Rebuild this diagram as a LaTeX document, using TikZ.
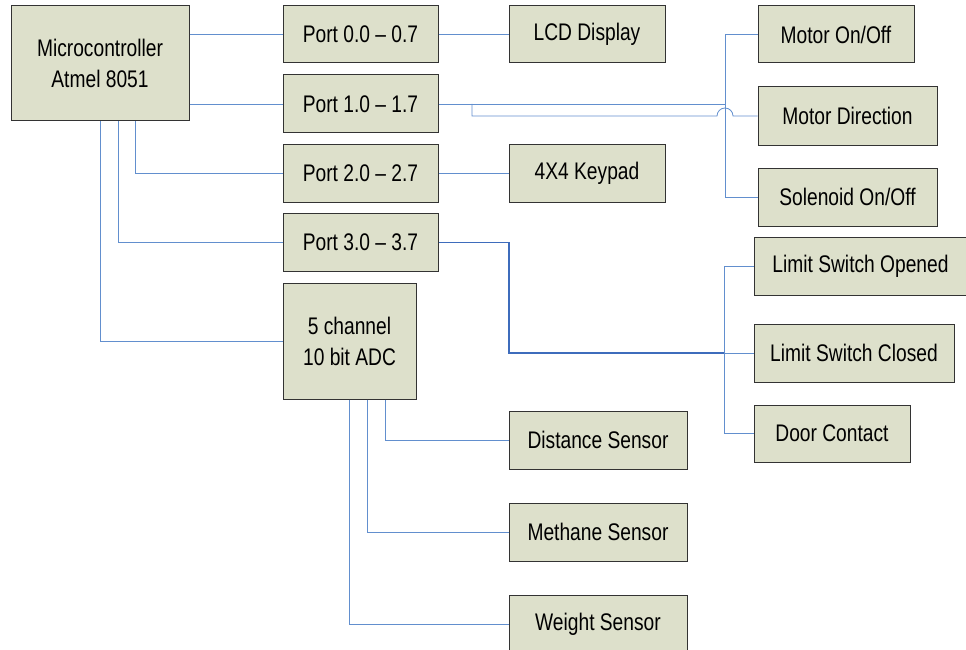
\documentclass[tikz,border=0pt]{standalone}
\usepackage{fontspec}
\setmainfont{Liberation Sans}[FakeStretch=0.8]
\usepackage{tikz}
\definecolor{boxfill}{RGB}{221,224,203}
\definecolor{wireblue}{RGB}{98,143,206}
\definecolor{busblue}{RGB}{62,108,188}

\begin{document}
\begin{tikzpicture}[x=1pt,y=-1pt]
	\tikzstyle{blk}=[draw=black!80,fill=boxfill,line width=1pt,inner sep=0pt,align=center,font=\fontsize{24}{31}\selectfont];
	\tikzstyle{wire}=[draw=wireblue,line width=0.8pt];
	\tikzstyle{bus}=[draw=busblue,line width=1.4pt];
	\useasboundingbox (0,0) rectangle (966,650);
	%% controller and ports
	\node[blk,minimum width=178pt,minimum height=115pt] (mcu) at (100,63.5) {Microcontroller\\Atmel 8051};
	\node[blk,minimum width=155pt,minimum height=57pt]  (p0)  at (360.5,34.5) {Port 0.0 -- 0.7};
	\node[blk,minimum width=155pt,minimum height=58pt]  (p1)  at (360.5,104)  {Port 1.0 -- 1.7};
	\node[blk,minimum width=155pt,minimum height=58pt]  (p2)  at (360.5,173.5) {Port 2.0 -- 2.7};
	\node[blk,minimum width=155pt,minimum height=58pt]  (p3)  at (360.5,242.5) {Port 3.0 -- 3.7};
	\node[blk,minimum width=133pt,minimum height=116pt] (adc) at (349.5,341) {5 channel\\10 bit ADC};
	%% outputs
	\node[blk,minimum width=156pt,minimum height=57pt] (lcd)    at (587,34.5)  {LCD Display};
	\node[blk,minimum width=156pt,minimum height=58pt] (keypad) at (587,173.5) {4X4 Keypad};
	\node[blk,minimum width=156pt,minimum height=57pt] (moton)  at (836,34.5)  {Motor On/Off};
	\node[blk,minimum width=179pt,minimum height=58pt] (motdir) at (847.5,116) {Motor Direction};
	\node[blk,minimum width=179pt,minimum height=58pt] (solen)  at (847.5,197) {Solenoid On/Off};
	%% inputs
	\node[blk,minimum width=213pt,minimum height=58pt] (lsopen)   at (860.5,266) {Limit Switch Opened};
	\node[blk,minimum width=200pt,minimum height=58pt] (lsclosed) at (854,353)   {Limit Switch Closed};
	\node[blk,minimum width=156pt,minimum height=57pt] (door)     at (832,433.5) {Door Contact};
	\node[blk,minimum width=178pt,minimum height=58pt] (dist)     at (598,440)   {Distance Sensor};
	\node[blk,minimum width=178pt,minimum height=58pt] (meth)     at (598,532)   {Methane Sensor};
	\node[blk,minimum width=178pt,minimum height=58pt] (weight)   at (598,624)   {Weight Sensor};
	%% junctions
	\coordinate (j1) at (725,104);
	\coordinate (k1) at (472,104);
	\coordinate (j3) at (724,353);
	\coordinate (k3) at (509,242.5);
	%% controller to ports
	\draw[wire] (p0.west -| mcu.east) -- (p0.west);
	\draw[wire] (p1.west -| mcu.east) -- (p1.west);
	\draw[wire] ([xshift=35pt]mcu.south) |- (p2.west);
	\draw[wire] ([xshift=18pt]mcu.south) |- (p3.west);
	\draw[wire] (mcu.south) |- (adc.west);
	%% ports to devices
	\draw[wire] (p0.east) -- (lcd.west);
	\draw[wire] (p2.east) -- (keypad.west);
	\draw[wire] (p1.east) -- (j1);
	\draw[wire] (moton.west) -| (j1) |- (solen.west);
	\draw[wire] (k1) |- ([xshift=-8pt]j1 |- motdir.west) arc[start angle=180,end angle=0,radius=8pt] -- (motdir.west);
	\draw[bus]  (p3.east) -- (k3) |- (j3);
	\draw[wire] (j3) -- (lsclosed.west);
	\draw[wire] (lsopen.west) -| (j3) |- (door.west);
	%% sensors
	\draw[wire] ([xshift=36pt]adc.south) |- (dist.west);
	\draw[wire] ([xshift=18pt]adc.south) |- (meth.west);
	\draw[wire] (adc.south) |- (weight.west);
\end{tikzpicture}
\end{document}
